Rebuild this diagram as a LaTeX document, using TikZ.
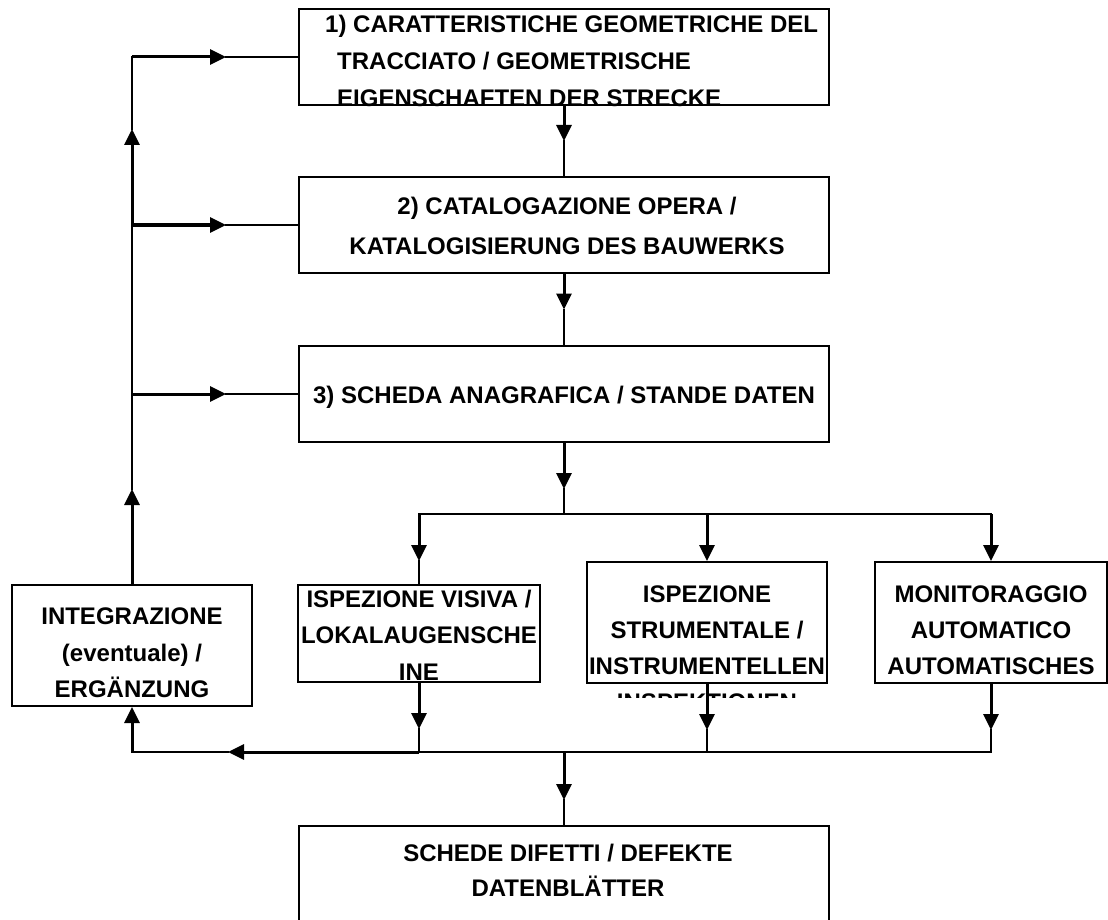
\documentclass[tikz,border=0pt]{standalone}
\usepackage{fontspec}
\setmainfont{Liberation Sans}
\usetikzlibrary{positioning,calc,arrows.meta}
\tikzset{>={Triangle[length=16pt,width=15pt]}}

\begin{document}
\begin{tikzpicture}[x=1pt,y=-1pt,
  box/.style={draw,line width=2pt,inner sep=0pt},
  txt/.style={inner sep=0pt,align=center,font=\fontsize{24}{36.5}\selectfont\bfseries},
  flow/.style={->,line width=3pt},
  link/.style={line width=1.9pt,line cap=rect}]
\useasboundingbox (0,0) rectangle (1108,920);

% Boxes
\node[box,minimum width=530pt,minimum height=96pt] (geo) at (564,57) {};
\node[box,minimum width=530pt,minimum height=96pt] (cat) at (564,225) {};
\node[box,minimum width=530pt,minimum height=96pt] (ana) at (564,394) {};
\node[box,minimum width=240pt,minimum height=121pt] (int) at (132,645.5) {};
\node[box,minimum width=242pt,minimum height=97pt] (vis) at (419,633.5) {};
\node[box,minimum width=240pt,minimum height=121pt] (str) at (707,622.5) {};
\node[box,minimum width=232pt,minimum height=121pt] (mon) at (991,622.5) {};
\node[box,minimum width=530pt,minimum height=130pt] (dif) at (564,891) {};

% Texts
\node[txt,anchor=west,align=left,font=\fontsize{24}{37}\selectfont\bfseries] (geotext) at (325,61)
  {1) CARATTERISTICHE GEOMETRICHE DEL\\\hspace*{12pt}TRACCIATO / GEOMETRISCHE\\\hspace*{12pt}EIGENSCHAFTEN DER STRECKE};
\node[txt] (cattext) at (567,226) {2) CATALOGAZIONE OPERA /\\[4pt]KATALOGISIERUNG DES BAUWERKS};
\node[txt] (anatext) at (564,397) {3) SCHEDA ANAGRAFICA / STANDE DATEN};
\node[txt] (inttext) at (132,653) {INTEGRAZIONE\\(eventuale) /\\ERGÄNZUNG};
\node[txt] (vistext) at (419,635) {ISPEZIONE VISIVA /\\LOKALAUGENSCHE\\INE};
\begin{scope}
  \clip (560,540) rectangle (860,697);
  \node[txt,font=\fontsize{24}{36}\selectfont\bfseries] (strtext) at (707,648)
    {ISPEZIONE\\STRUMENTALE /\\INSTRUMENTELLEN\\INSPEKTIONEN};
\end{scope}
\node[txt,font=\fontsize{24}{36}\selectfont\bfseries] (montext) at (991,630) {MONITORAGGIO\\AUTOMATICO\\AUTOMATISCHES};
\node[txt,font=\fontsize{24}{35}\selectfont\bfseries] (diftext) at (568,870.5) {SCHEDE DIFETTI / DEFEKTE\\DATENBLÄTTER};

% Main chain
\draw[flow] (geo.south) -- ($(geo.south)!0.5!(cat.north)$) coordinate (g1);
\draw[link] (g1) -- (cat.north);
\draw[flow] (cat.south) -- ($(cat.south)!0.5!(ana.north)$) coordinate (c1);
\draw[link] (c1) -- (ana.north);

% Split to the three checks
\coordinate (split) at ($(ana.south)+(0,71)$);
\draw[flow] (ana.south) -- ++(0,46) coordinate (a1);
\draw[link] (a1) -- (split);
\draw[link] (vis.north |- split) -- (mon.north |- split);
\draw[flow] (vis.north |- split) -- (vis.north |- str.north) coordinate (v1);
\draw[link] (v1) -- (vis.north);
\draw[flow] (str.north |- split) -- (str.north);
\draw[flow] (mon.north |- split) -- (mon.north);

% Merge to defect sheets
\coordinate (merge) at ($(dif.north)+(0,-73)$);
\foreach \nd in {vis,str,mon}{
  \draw[flow] (\nd.south) -- ++(0,46) coordinate (\nd out);
  \draw[link] (\nd out) -- (\nd.south |- merge);
}
\draw[link] (mon.south |- merge) -- (vis.south |- merge);
\draw[flow] (vis.south |- merge) -- ($(int.south |- merge)+(96,0)$) coordinate (back);
\draw[link] (back) -- (int.south |- merge);
\draw[flow] (int.south |- merge) -- (int.south);
\draw[flow] (merge) -- ++(0,48) coordinate (m1);
\draw[link] (m1) -- (dif.north);

% Feedback
\draw[flow] (int.north) -- ++(0,-95) coordinate (u1);
\draw[link] (u1) -- (int.north |- cat.west);
\draw[flow] (int.north |- cat.west) -- ++(0,-96) coordinate (u2);
\draw[link] (u2) -- (int.north |- geo.west);
\foreach \nd in {geo,cat,ana}{
  \draw[flow] (int.north |- \nd.west) -- ($(\nd.west)+(-72,0)$) coordinate (\nd in);
  \draw[link] (\nd in) -- (\nd.west);
}

\end{tikzpicture}
\end{document}
